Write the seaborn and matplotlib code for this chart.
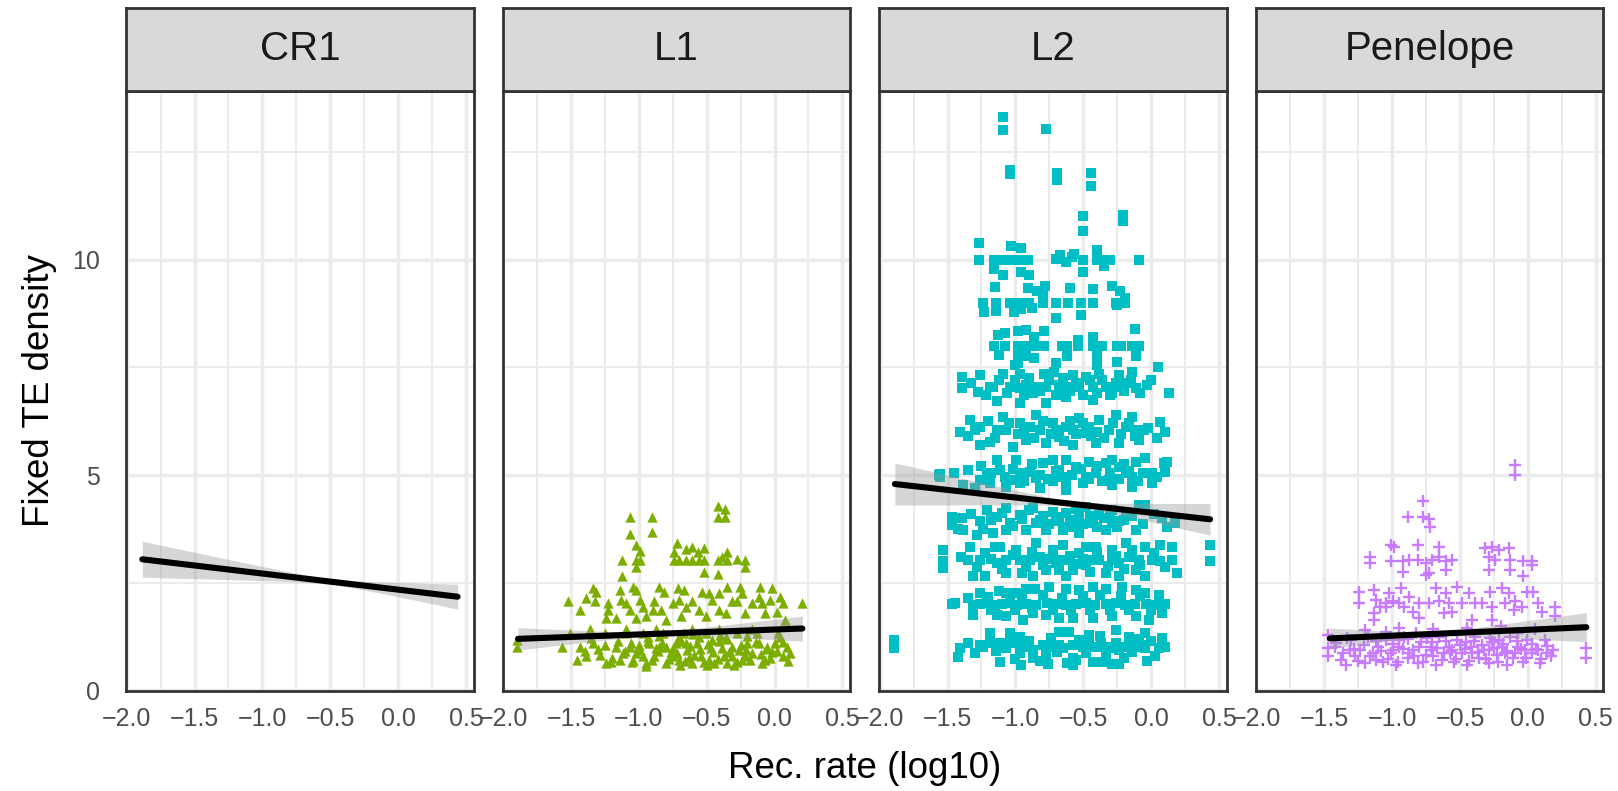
import numpy as np
import pandas as pd
import matplotlib
matplotlib.use("Agg")
import matplotlib.pyplot as plt
import seaborn as sns

# ---------------------------------------------------------------- data
families = ["CR1", "L1", "L2", "Penelope"]
family_colors = {"CR1": "#F8766D", "L1": "#7CAE00", "L2": "#00BFC4", "Penelope": "#C77CFF"}
family_markers = {"CR1": "o", "L1": "^", "L2": "s", "Penelope": "+"}
family_sizes = {"CR1": 40, "L1": 55, "L2": 44, "Penelope": 80}

# (recombination rate log10, fixed TE density) per family
cr1_points = []

l1_points = [
    (-1.068, 4.03), (-0.905, 4.03), (-1.068, 3.63), (-0.905, 3.67),
    (-0.42, 4.29), (-0.366, 4.20), (-0.42, 4.03), (-0.366, 4.03),
    (-1.024, 3.38), (-0.99, 3.24), (-1.024, 3.02), (-0.99, 3.02), (-1.024, 2.85),
    (-1.122, 3.02), (-1.122, 2.64),
    (-0.717, 3.43), (-0.739, 3.22), (-0.654, 3.27), (-0.61, 3.33), (-0.561, 3.22),
    (-0.517, 3.31), (-0.739, 3.02), (-0.703, 3.02), (-0.654, 3.02), (-0.605, 3.02),
    (-0.556, 3.02), (-0.517, 3.02), (-0.42, 3.02), (-0.386, 3.10), (-0.349, 3.22),
    (-0.349, 3.02), (-0.273, 3.04), (-0.215, 3.02), (-0.215, 2.85), (-0.522, 2.75),
    (-0.42, 2.69),
    (-1.52, 2.06), (-1.337, 2.37), (-1.312, 2.29), (-1.386, 2.13), (-1.325, 2.06),
    (-1.227, 2.02), (-1.227, 1.86), (-1.166, 1.67), (-1.239, 1.67), (-1.142, 2.33),
    (-1.13, 2.09), (-1.044, 2.40), (-1.02, 2.33), (-0.995, 2.09), (-0.971, 1.94),
    (-1.068, 1.86), (-1.02, 1.67), (-0.849, 2.40), (-0.812, 2.29), (-0.886, 2.06),
    (-0.837, 1.86), (-0.80, 1.63), (-0.715, 2.37), (-0.666, 2.33), (-0.703, 2.09),
    (-0.654, 1.94), (-0.69, 1.71), (-0.556, 1.86), (-0.532, 2.29), (-0.483, 2.25),
    (-0.459, 2.09), (-0.41, 2.25), (-0.349, 2.40), (-0.41, 1.86), (-0.361, 1.78),
    (-0.251, 2.40), (-0.239, 2.25), (-0.276, 2.06), (-0.215, 1.78), (-0.105, 2.40),
    (-0.117, 2.17), (-0.093, 2.02), (-0.02, 2.37), (-0.032, 2.09), (0.041, 2.17),
    (0.066, 2.02), (0.017, 1.82), (0.20, 2.02), (0.078, 1.63),
    (-1.093, 2.02), (-0.898, 1.86), (-0.751, 2.02), (-0.605, 2.06), (-0.312, 2.06),
    (-0.166, 2.02), (-0.947, 1.71), (-0.507, 1.71), (-0.068, 1.78), (-1.434, 1.86),
    (-1.898, 1.16), (-1.898, 1.01), (-1.568, 1.01), (-1.507, 1.32), (-1.459, 0.70),
    (-1.386, 0.78), (-1.434, 1.01), (-1.337, 1.09), (-1.288, 0.81), (-1.251, 1.32),
    (-1.239, 0.62), (-1.203, 0.66), (-1.166, 1.01), (-1.117, 0.85), (-1.093, 1.32),
    (-1.056, 1.09), (-1.044, 0.70), (-0.995, 0.93), (-0.971, 1.32), (-0.947, 0.62),
    (-0.922, 1.09), (-0.886, 0.78), (-0.849, 1.01), (-0.825, 1.32), (-0.80, 0.62),
    (-0.764, 0.89), (-0.727, 1.09), (-0.703, 0.70), (-0.666, 1.32), (-0.642, 0.93),
    (-0.605, 0.62), (-0.568, 1.09), (-0.544, 0.78), (-0.507, 1.32), (-0.471, 0.97),
    (-0.446, 0.62), (-0.41, 1.13), (-0.373, 0.78), (-0.349, 0.62), (-0.312, 1.01),
    (-0.276, 1.32), (-0.239, 0.70), (-0.203, 1.09), (-0.166, 0.85), (-0.129, 1.32),
    (-0.093, 0.62), (-0.056, 1.01), (-0.02, 0.89), (0.005, 1.09), (0.041, 1.24),
    (0.066, 0.78), (0.09, 1.01), (0.115, 0.85),
    (-1.142, 0.70), (-1.02, 0.85), (-0.873, 0.97), (-0.751, 0.78), (-0.629, 0.74),
    (-0.483, 0.70), (-0.337, 0.89), (-0.215, 0.78), (-0.068, 0.70), (-1.068, 1.01),
    (-0.80, 1.01), (-0.654, 1.09), (-0.459, 1.16), (-0.264, 0.93), (-0.117, 1.09),
    (-0.934, 1.24), (-0.703, 1.24), (-0.556, 1.24), (-0.361, 1.24), (0.029, 1.32),
    (-1.361, 1.43), (-1.093, 1.43), (-0.873, 1.43), (-0.605, 1.43), (-0.41, 1.43),
    (-0.166, 1.43),
    (-1.30, 0.95), (-1.25, 1.05), (-1.20, 0.75), (-1.15, 1.15), (-1.10, 0.90),
    (-1.05, 0.65), (-1.00, 1.05), (-0.97, 0.80), (-0.93, 1.15), (-0.90, 0.70),
    (-0.86, 0.90), (-0.83, 1.10), (-0.78, 0.72), (-0.75, 0.98), (-0.72, 0.85),
    (-0.69, 1.15), (-0.66, 0.68), (-0.62, 1.02), (-0.59, 0.82), (-0.55, 0.95),
    (-0.52, 0.66), (-0.49, 1.08), (-0.45, 0.88), (-0.42, 0.72), (-0.39, 0.98),
    (-0.35, 1.18), (-0.31, 0.80), (-0.28, 0.66), (-0.25, 1.05), (-0.21, 0.92),
    (-0.18, 0.70), (-0.14, 1.12), (-0.10, 0.84), (-0.06, 0.95), (-0.03, 0.75),
    (0.02, 0.90), (0.06, 1.12), (0.10, 0.68), (-1.40, 0.90), (-1.35, 1.20),
    (-0.95, 0.55), (-0.70, 0.58), (-0.50, 0.58), (-0.30, 0.58), (-0.85, 1.25),
    (-0.60, 1.30), (-0.40, 1.28), (-0.20, 1.25),
]

l2_points = [
    # high outliers
    (-1.088, 13.33), (-1.088, 13.02), (-0.773, 13.05), (-1.04, 12.10), (-1.04, 12.00),
    (-0.69, 12.03), (-0.69, 11.86), (-0.44, 12.03), (-0.44, 11.73), (-0.50, 11.03),
    (-0.50, 10.68), (-0.21, 11.05), (-0.21, 10.90),
    # around 10
    (-1.27, 10.40), (-1.03, 10.33), (-0.96, 10.29), (-1.27, 10.0), (-1.16, 10.0),
    (-1.09, 10.0), (-1.03, 10.0), (-0.96, 10.0), (-0.91, 10.0), (-0.70, 10.02),
    (-0.67, 10.12), (-0.63, 9.96), (-0.58, 10.08), (-0.57, 10.15), (-0.50, 10.0),
    (-0.40, 10.23), (-0.40, 10.0), (-0.33, 10.0), (-0.30, 10.0), (-0.35, 9.86),
    (-0.09, 10.0), (-1.16, 9.79), (-1.09, 9.65), (-0.96, 9.73), (-0.90, 9.65),
    (-0.50, 9.73),
    # around 9
    (-1.15, 9.38), (-0.91, 9.36), (-0.78, 9.40), (-0.84, 9.29), (-0.80, 9.19),
    (-0.60, 9.36), (-0.43, 9.33), (-0.29, 9.40), (-0.23, 9.29), (-0.19, 9.12),
    (-1.24, 9.0), (-1.14, 9.0), (-1.04, 9.0), (-0.97, 9.0), (-0.90, 9.0), (-0.80, 9.0),
    (-0.70, 9.0), (-0.61, 9.0), (-0.52, 9.0), (-0.43, 9.0), (-0.26, 9.0), (-0.19, 9.0),
    (-1.23, 8.78), (-1.14, 8.82), (-1.01, 8.78), (-0.96, 8.85), (-0.88, 8.89),
    (-0.70, 8.64), (-0.52, 8.72), (-0.25, 8.95),
    # around 8
    (-1.16, 8.0), (-1.08, 8.0), (-0.98, 8.0), (-0.92, 8.0), (-0.86, 8.0), (-0.82, 8.0),
    (-0.79, 8.0), (-0.66, 8.0), (-0.62, 8.0), (-0.54, 8.0), (-0.43, 8.0), (-0.36, 8.0),
    (-0.25, 8.0), (-0.22, 8.0), (-0.14, 8.0), (-0.09, 8.0),
    (-1.13, 8.26), (-1.08, 8.30), (-0.98, 8.35), (-0.92, 8.38), (-0.86, 8.20),
    (-0.79, 8.35), (-0.43, 8.20), (-0.12, 8.40), (-0.54, 8.14),
    (-1.12, 7.79), (-0.98, 7.77), (-0.92, 7.77), (-0.86, 7.73), (-0.62, 7.76),
    (-0.40, 7.79), (-0.11, 7.76), (-0.98, 7.60),
    # around 7
    (-1.395, 7.29), (-1.395, 7.02), (-1.261, 7.33), (-1.273, 6.94), (-1.164, 7.05),
    (-1.139, 6.71), (-1.091, 7.36), (-1.042, 7.05), (-0.969, 7.36), (-0.969, 6.67),
    (-0.92, 7.09), (-0.871, 6.90), (-0.786, 7.36), (-0.774, 7.05), (-0.774, 6.67),
    (-0.713, 7.40), (-0.676, 7.09), (-0.627, 6.82), (-0.578, 7.33), (-0.53, 7.05),
    (-0.481, 7.29), (-0.432, 6.74), (-0.383, 7.36), (-0.335, 7.05), (-0.286, 6.90),
    (-0.237, 7.33), (-0.188, 7.13), (-0.139, 7.40), (-0.115, 7.02), (-0.029, 7.09),
    (0.129, 6.90), (-1.188, 7.05), (-0.847, 7.05), (-0.627, 7.05), (-0.432, 7.05),
    (-0.237, 7.05), (-0.969, 7.02), (-1.0, 7.55), (-0.70, 7.60), (-0.40, 7.55),
    (-0.25, 7.62), (0.05, 7.50),
    (-1.33, 7.15), (-1.22, 6.85), (-1.12, 7.20), (-1.06, 6.90), (-1.00, 7.20),
    (-0.94, 6.85), (-0.90, 7.25), (-0.82, 6.95), (-0.75, 7.20), (-0.70, 6.85),
    (-0.65, 7.25), (-0.60, 6.95), (-0.55, 7.15), (-0.50, 6.85), (-0.45, 7.20),
    (-0.40, 6.90), (-0.36, 7.22), (-0.30, 6.85), (-0.26, 7.15), (-0.20, 6.95),
    (-0.15, 7.20), (-0.08, 6.90), (0.00, 7.20),
    # around 6
    (-1.408, 6.01), (-1.334, 6.28), (-1.261, 5.70), (-1.188, 5.77), (-1.091, 6.36),
    (-1.066, 6.05), (-1.018, 5.66), (-0.969, 6.20), (-0.92, 5.81), (-0.847, 6.39),
    (-0.822, 6.05), (-0.774, 5.74), (-0.725, 6.20), (-0.676, 5.89), (-0.627, 6.12),
    (-0.578, 5.70), (-0.53, 6.32), (-0.481, 5.97), (-0.408, 5.74), (-0.383, 6.28),
    (-0.31, 6.05), (-0.261, 6.39), (-0.237, 5.74), (-0.139, 6.36), (-0.115, 6.05),
    (-0.091, 5.81), (-0.054, 6.05), (0.068, 6.24), (0.104, 6.01), (-1.261, 6.12),
    (-0.895, 6.12), (-0.456, 6.12), (-0.188, 6.12), (-1.139, 6.05), (-0.578, 6.05),
    (-1.35, 5.90), (-1.30, 6.05), (-1.20, 6.25), (-1.15, 5.85), (-1.05, 6.20),
    (-0.98, 5.95), (-0.94, 6.05), (-0.86, 5.85), (-0.80, 6.25), (-0.74, 5.95),
    (-0.70, 6.05), (-0.64, 5.80), (-0.60, 6.25), (-0.55, 5.95), (-0.50, 6.20),
    (-0.44, 5.90), (-0.40, 6.00), (-0.35, 5.85), (-0.28, 6.20), (-0.22, 5.95),
    (-0.16, 6.20), (-0.12, 5.90), (-0.02, 6.10), (0.04, 5.85),
    # around 5
    (-1.554, 4.96), (-1.554, 5.03), (-1.566, 5.0), (-1.347, 5.12), (-1.212, 5.0),
    (-1.139, 5.35), (-1.115, 5.12), (-0.993, 5.35), (-0.969, 5.04), (-0.895, 5.08),
    (-0.798, 5.27), (-0.725, 5.35), (-0.676, 5.12), (-0.627, 5.35), (-0.554, 5.19),
    (-0.456, 5.31), (-0.408, 5.04), (-0.335, 5.27), (-0.286, 5.35), (-0.237, 5.19),
    (-0.188, 5.04), (-0.115, 5.31), (-0.042, 5.39), (0.007, 5.04), (0.092, 5.27),
    (0.104, 5.08), (-1.188, 4.81), (-1.066, 4.73), (-0.969, 4.81), (-0.822, 4.69),
    (-0.725, 4.85), (-0.627, 4.65), (-0.505, 4.81), (-0.286, 4.77), (-0.139, 4.73),
    (0.007, 4.81), (-1.383, 4.77), (-1.261, 4.88), (-1.042, 4.88), (-0.847, 4.92),
    (-0.627, 4.88), (-0.481, 4.96), (-0.31, 4.88), (-0.139, 4.96),
    (-1.45, 5.05), (-1.30, 4.70), (-1.25, 5.20), (-1.18, 5.05), (-1.08, 4.95),
    (-1.02, 5.15), (-0.94, 4.85), (-0.88, 5.25), (-0.82, 5.00), (-0.76, 4.90),
    (-0.70, 5.10), (-0.65, 4.95), (-0.58, 5.00), (-0.52, 5.15), (-0.46, 4.90),
    (-0.40, 5.20), (-0.36, 4.85), (-0.30, 5.05), (-0.24, 4.90), (-0.20, 5.25),
    (-0.16, 5.10), (-0.10, 4.85), (-0.06, 5.05), (0.04, 4.95), (0.12, 5.30),
    # around 4
    (-1.469, 4.03), (-1.469, 3.84), (-1.395, 3.99), (-1.383, 3.72), (-1.286, 3.61),
    (-1.212, 4.19), (-1.164, 3.64), (-1.139, 4.03), (-1.066, 4.23), (-1.042, 3.88),
    (-0.969, 4.07), (-0.92, 3.72), (-0.871, 4.23), (-0.822, 3.95), (-0.774, 3.72),
    (-0.725, 4.15), (-0.676, 3.92), (-0.627, 4.11), (-0.578, 3.80), (-0.53, 4.03),
    (-0.481, 4.26), (-0.432, 3.88), (-0.383, 4.07), (-0.335, 3.72), (-0.286, 4.19),
    (-0.237, 3.92), (-0.188, 4.11), (-0.115, 3.72), (-0.091, 4.30), (-0.042, 4.30),
    (0.08, 3.99), (0.178, 3.88), (-1.066, 3.72), (-0.53, 3.64), (-0.847, 3.88),
    (-0.627, 3.80), (-1.261, 3.92), (-0.286, 3.88),
    (-1.42, 3.75), (-1.33, 4.10), (-1.24, 3.75), (-1.18, 3.95), (-1.10, 4.12),
    (-1.02, 3.82), (-0.95, 3.98), (-0.90, 4.18), (-0.80, 4.05), (-0.75, 3.85),
    (-0.70, 4.02), (-0.65, 3.72), (-0.60, 3.95), (-0.55, 4.20), (-0.50, 3.85),
    (-0.45, 4.05), (-0.40, 3.78), (-0.35, 4.00), (-0.30, 4.05), (-0.25, 3.78),
    (-0.20, 3.95), (-0.14, 4.05), (-0.06, 3.85), (0.02, 4.10), (0.12, 3.80),
    # around 3
    (-1.53, 3.26), (-1.53, 2.99), (-1.53, 2.83), (-1.334, 3.33), (-1.347, 3.02),
    (-1.31, 2.64), (-1.225, 3.18), (-1.225, 2.64), (-1.152, 3.33), (-1.139, 2.95),
    (-1.066, 2.71), (-0.993, 3.26), (-0.969, 3.02), (-0.92, 2.87), (-0.847, 3.41),
    (-0.822, 3.10), (-0.774, 2.79), (-0.725, 3.26), (-0.70, 2.95), (-0.652, 3.37),
    (-0.627, 3.02), (-0.578, 2.79), (-0.53, 3.18), (-0.481, 2.91), (-0.408, 3.33),
    (-0.383, 3.02), (-0.335, 2.71), (-0.286, 3.26), (-0.237, 2.95), (-0.188, 3.41),
    (-0.164, 3.10), (-0.115, 2.79), (-0.042, 3.33), (-0.042, 2.64), (0.007, 3.02),
    (0.068, 3.37), (0.068, 2.99), (0.153, 3.33), (0.153, 3.02), (0.19, 2.71),
    (0.434, 3.37), (0.434, 2.99), (-1.261, 3.02), (-1.066, 3.02), (-0.895, 3.02),
    (-0.676, 3.02), (-0.432, 3.02), (-0.286, 3.02), (-0.091, 3.02), (-1.115, 3.33),
    (-0.481, 3.33), (-0.627, 2.64), (-0.871, 2.64), (-0.237, 2.64),
    (-1.40, 3.10), (-1.28, 2.85), (-1.18, 3.05), (-1.10, 2.82), (-1.02, 3.15),
    (-0.95, 2.72), (-0.88, 3.20), (-0.80, 2.90), (-0.75, 3.05), (-0.68, 2.80),
    (-0.60, 3.12), (-0.55, 2.92), (-0.50, 3.05), (-0.45, 2.75), (-0.40, 3.20),
    (-0.32, 2.88), (-0.26, 3.12), (-0.20, 2.82), (-0.14, 3.25), (-0.08, 2.90),
    (0.02, 3.18), (0.10, 2.85),
    # around 2
    (-1.469, 2.0), (-1.444, 2.02), (-1.261, 2.25), (-1.20, 2.17),
    (-1.31, 1.98), (-1.26, 2.0), (-1.21, 2.02), (-1.15, 1.98), (-1.10, 2.0),
    (-1.04, 2.03), (-0.99, 1.98), (-0.92, 2.0), (-0.85, 1.98), (-0.77, 2.02),
    (-0.70, 2.0), (-0.63, 1.97), (-0.55, 2.0), (-0.48, 2.02), (-0.41, 1.98),
    (-0.33, 2.0), (-0.26, 2.03), (-0.19, 1.98), (-0.12, 2.0), (-0.04, 2.0),
    (0.03, 1.98), (0.10, 2.0),
    (-1.066, 2.25), (-0.993, 2.25), (-0.92, 2.36), (-0.859, 2.36), (-0.749, 2.40),
    (-0.627, 2.36), (-0.53, 2.33), (-0.432, 2.40), (-0.335, 2.36), (-0.212, 2.40),
    (-0.115, 2.33), (-0.042, 2.25),
    (-1.31, 1.74), (-1.139, 1.74), (-1.066, 1.71), (-0.944, 1.63), (-0.871, 1.78),
    (-0.774, 1.74), (-0.676, 1.67), (-0.578, 1.67), (-0.432, 1.67), (-0.286, 1.71),
    (-0.115, 1.72), (-0.017, 1.63), (0.08, 1.78),
    (-1.35, 2.15), (-1.18, 1.85), (-1.12, 2.30), (-1.00, 1.85), (-0.95, 2.12),
    (-0.88, 1.90), (-0.80, 2.20), (-0.72, 1.85), (-0.66, 2.15), (-0.59, 1.85),
    (-0.50, 2.18), (-0.45, 1.85), (-0.38, 2.20), (-0.30, 1.85), (-0.22, 2.18),
    (-0.16, 1.85), (-0.08, 2.18), (0.00, 1.85), (0.06, 2.20),
    # around 1
    (-1.895, 1.16), (-1.895, 0.97), (-1.408, 0.97), (-1.42, 0.76), (-1.261, 1.05),
    (-1.188, 1.09), (-1.188, 1.32), (-1.115, 1.09), (-1.042, 1.32), (-1.042, 1.09),
    (-0.969, 1.24), (-0.969, 1.01), (-0.969, 0.85), (-0.871, 0.93), (-0.871, 0.74),
    (-0.798, 1.05), (-0.676, 1.36), (-0.676, 1.05), (-0.652, 0.97), (-0.603, 1.36),
    (-0.578, 1.05), (-0.578, 0.74), (-0.554, 0.70), (-0.505, 1.01), (-0.456, 1.28),
    (-0.456, 1.09), (-0.371, 1.09), (-0.31, 0.97), (-0.261, 1.40), (-0.261, 1.09),
    (-0.188, 1.01), (-0.164, 1.23), (-0.115, 1.01), (-0.042, 1.32), (-0.042, 0.97),
    (0.056, 0.97), (0.105, 0.99), (-1.115, 0.64), (-0.956, 0.58), (-0.761, 0.61),
    (-0.578, 0.58), (-0.359, 0.64), (-0.286, 0.61), (-0.237, 0.61), (-0.03, 0.68),
    (-1.237, 1.01), (-1.066, 0.97), (-0.92, 1.01), (-0.725, 1.01), (-0.53, 1.16),
    (-0.408, 1.01), (-0.237, 0.93), (-0.066, 1.05), (-0.335, 0.78), (-0.774, 0.81),
    (-1.35, 1.10), (-1.30, 0.85), (-1.14, 0.90), (-1.00, 0.72), (-0.90, 1.15),
    (-0.82, 0.68), (-0.74, 1.20), (-0.69, 0.88), (-0.62, 0.62), (-0.48, 0.85),
    (-0.43, 0.66), (-0.38, 1.25), (-0.33, 1.00), (-0.20, 0.75), (-0.14, 0.88),
    (-0.09, 1.18), (0.00, 1.15), (0.03, 0.80), (0.08, 1.22),
]

penelope_points = [
    (-0.098, 5.23), (-0.098, 5.0), (-0.771, 4.40), (-0.886, 4.03), (-0.771, 4.02),
    (-0.727, 3.97), (-0.722, 3.78), (-1.008, 3.37), (-0.983, 3.33), (-0.812, 3.37),
    (-0.654, 3.33), (-1.161, 3.10), (-1.161, 2.95),
    (-1.008, 2.99), (-0.922, 2.99), (-0.873, 3.02), (-0.812, 3.02), (-0.751, 2.95),
    (-0.703, 3.02), (-0.654, 3.10), (-0.605, 2.99), (-0.556, 3.02), (-0.605, 2.79),
    (-0.727, 2.71), (-0.751, 2.68), (-0.922, 2.75), (-0.313, 3.30), (-0.264, 3.33),
    (-0.215, 3.26), (-0.142, 3.30), (-0.288, 3.10), (-0.239, 3.02), (-0.13, 3.02),
    (-0.288, 2.79), (-0.13, 2.79), (-0.032, 2.99), (0.029, 2.99), (0.029, 2.91),
    (-0.032, 2.64),
    (-1.244, 2.29), (-1.244, 2.02), (-1.13, 2.33), (-1.117, 2.09), (-1.13, 1.78),
    (-1.13, 1.63), (-1.093, 1.94), (-1.02, 2.25), (-0.995, 2.06), (-1.044, 1.94),
    (-0.934, 2.37), (-0.91, 1.94), (-0.873, 2.17), (-0.849, 1.82), (-0.80, 2.02),
    (-0.80, 1.67), (-0.727, 2.02), (-0.678, 2.37), (-0.654, 2.06), (-0.605, 2.25),
    (-0.617, 1.78), (-0.556, 1.82), (-0.52, 2.40), (-0.483, 2.02), (-0.434, 2.25),
    (-0.386, 2.02), (-0.41, 1.63), (-0.276, 2.29), (-0.264, 1.94), (-0.264, 1.63),
    (-0.19, 2.37), (-0.142, 2.25), (-0.093, 2.06), (-0.105, 1.86), (-0.044, 1.94),
    (-0.008, 2.29), (0.041, 2.29), (0.078, 2.02), (0.102, 1.82), (0.20, 1.94),
    (0.20, 1.71), (-1.044, 2.02), (-0.946, 2.02), (-0.581, 2.02), (-0.337, 2.02),
    (-0.166, 2.02),
    (-1.471, 1.28), (-1.471, 0.97), (-1.471, 0.78), (-1.41, 1.09), (-1.361, 0.85),
    (-1.337, 0.58), (-1.30, 1.16), (-1.276, 0.78), (-1.239, 0.93), (-1.203, 0.62),
    (-1.178, 1.24), (-1.142, 0.85), (-1.105, 1.01), (-1.069, 0.66), (-1.044, 1.16),
    (-1.008, 0.85), (-0.971, 0.58), (-0.946, 1.01), (-0.91, 1.24), (-0.886, 0.74),
    (-0.849, 0.93), (-0.812, 0.62), (-0.788, 1.12), (-0.751, 0.81), (-0.715, 1.01),
    (-0.678, 0.58), (-0.654, 1.24), (-0.617, 0.85), (-0.581, 1.01), (-0.544, 0.66),
    (-0.52, 1.16), (-0.483, 0.85), (-0.447, 0.58), (-0.422, 1.01), (-0.386, 1.24),
    (-0.361, 0.74), (-0.325, 0.93), (-0.288, 0.62), (-0.264, 1.12), (-0.227, 0.81),
    (-0.19, 1.01), (-0.154, 0.58), (-0.13, 1.24), (-0.093, 0.85), (-0.069, 1.01),
    (-0.032, 0.66), (-0.008, 1.16), (0.029, 0.85), (0.078, 0.93), (0.09, 0.62),
    (0.127, 1.16), (0.139, 0.85), (0.188, 0.93), (0.431, 0.97), (0.431, 0.74),
    (-1.312, 0.93), (-1.117, 0.70), (-0.995, 0.93), (-0.873, 0.85), (-0.703, 0.93),
    (-0.556, 0.93), (-0.41, 0.85), (-0.288, 0.93), (-0.166, 0.85), (-0.02, 0.93),
    (-0.946, 1.16), (-0.703, 1.12), (-0.459, 1.12), (-0.215, 1.16), (-0.824, 1.32),
    (-1.044, 1.36), (-0.069, 1.32),
    (-1.42, 1.00), (-1.38, 0.70), (-1.33, 1.20), (-1.28, 0.95), (-1.25, 0.68),
    (-1.21, 1.05), (-1.16, 0.78), (-1.12, 1.15), (-1.08, 0.90), (-1.03, 0.72),
    (-0.99, 1.08), (-0.96, 0.66), (-0.92, 0.95), (-0.88, 1.18), (-0.84, 0.78),
    (-0.80, 1.00), (-0.77, 0.66), (-0.74, 1.22), (-0.70, 0.80), (-0.67, 0.98),
    (-0.63, 0.70), (-0.60, 1.15), (-0.57, 0.88), (-0.53, 0.72), (-0.50, 1.05),
    (-0.46, 0.95), (-0.43, 0.68), (-0.40, 1.15), (-0.37, 0.88), (-0.34, 1.05),
    (-0.31, 0.72), (-0.28, 1.22), (-0.25, 0.98), (-0.22, 0.66), (-0.18, 1.08),
    (-0.15, 0.90), (-0.11, 0.75), (-0.08, 1.15), (-0.05, 0.95), (-0.01, 0.74),
    (0.03, 1.08), (0.06, 0.95), (0.10, 0.72), (0.14, 1.02), (0.17, 0.80),
    (-1.20, 1.40), (-0.95, 1.45), (-0.70, 1.42), (-0.45, 1.45), (-0.20, 1.48),
    (0.05, 1.42),
]

# linear fit per family: end points of the line and half-width of the 95% band
fit_x_start = [-1.885, -1.890, -1.888, -1.459]
fit_x_end = [0.438, 0.205, 0.434, 0.431]
fit_y_start = [3.04, 1.19, 4.79, 1.20]
fit_y_end = [2.17, 1.43, 3.97, 1.46]
band_start = [0.42, 0.26, 0.49, 0.24]
band_end = [0.29, 0.29, 0.37, 0.34]
band_min = [0.07, 0.05, 0.06, 0.05]

x_ticks = [-2.0, -1.5, -1.0, -0.5, 0.0, 0.5]
x_tick_labels = ["\u22122.0", "\u22121.5", "\u22121.0", "\u22120.5", "0.0", "0.5"]
x_minor = [-1.75, -1.25, -0.75, -0.25, 0.25]
y_ticks = [0, 5, 10]
y_tick_labels = ["0", "5", "10"]
y_minor = [2.5, 7.5, 12.5]

# ---------------------------------------------------------------- frame
point_sets = {"CR1": cr1_points, "L1": l1_points, "L2": l2_points, "Penelope": penelope_points}
rows = []
for fam, pts in point_sets.items():
    for rx, dy in pts:
        rows.append({"family": fam, "rec_rate": rx, "density": dy})
df = pd.DataFrame(rows, columns=["family", "rec_rate", "density"])

# ---------------------------------------------------------------- style
sns.set_style("white")
plt.rcParams["font.family"] = ["Liberation Sans", "DejaVu Sans"]

border = "#333333"
grid = "#EBEBEB"

W, H = 1618, 791
fig = plt.figure(figsize=(W / 100, H / 100), dpi=100)

panel_left = [126.3, 502.7, 879.3, 1256.0]
panel_w = 347.3
panel_top, panel_bottom = 91.0, 691.0
strip_top = 8.0


def band_halfwidth(xs, x0, x1, hw0, hw1, hwmin):
    a = hwmin ** 2
    r = np.sqrt((hw0 ** 2 - a) / (hw1 ** 2 - a))
    d1 = (x1 - x0) / (1 + r)
    xb = x1 - d1
    b = (hw1 ** 2 - a) / d1 ** 2
    return np.sqrt(a + b * (xs - xb) ** 2)


for i, fam in enumerate(families):
    l = panel_left[i] / W
    ax = fig.add_axes([l, 1 - panel_bottom / H, panel_w / W, (panel_bottom - panel_top) / H])
    ax.set_facecolor("white")
    ax.set_xlim(-2.003, 0.556)
    ax.set_ylim(-0.023, 13.93)

    # grid
    for gx in x_minor:
        ax.axvline(gx, color=grid, lw=1.4, zorder=0)
    for gy in y_minor:
        ax.axhline(gy, color=grid, lw=1.4, zorder=0)
    for gx in x_ticks:
        ax.axvline(gx, color=grid, lw=2.5, zorder=0)
    for gy in y_ticks:
        ax.axhline(gy, color=grid, lw=2.5, zorder=0)

    sub = df[df["family"] == fam]
    if len(sub):
        kw = dict(linewidth=0)
        if family_markers[fam] == "+":
            kw = dict(linewidth=1.7)
        sns.scatterplot(data=sub, x="rec_rate", y="density", ax=ax,
                        marker=family_markers[fam], color=family_colors[fam],
                        s=family_sizes[fam], zorder=2, legend=False, **kw)

    # fitted line with confidence ribbon
    xs = np.linspace(fit_x_start[i], fit_x_end[i], 100)
    ys = fit_y_start[i] + (fit_y_end[i] - fit_y_start[i]) * (xs - fit_x_start[i]) / (fit_x_end[i] - fit_x_start[i])
    hw = band_halfwidth(xs, fit_x_start[i], fit_x_end[i], band_start[i], band_end[i], band_min[i])
    ax.fill_between(xs, ys - hw, ys + hw, color="#999999", alpha=0.4, linewidth=0, zorder=3)
    fit_df = pd.DataFrame({"rec_rate": [fit_x_start[i], fit_x_end[i]],
                           "density": [fit_y_start[i], fit_y_end[i]]})
    sns.lineplot(data=fit_df, x="rec_rate", y="density", ax=ax, color="black",
                 lw=4.4, zorder=4, legend=False)

    ax.set_xticks(x_ticks)
    ax.set_xticklabels(x_tick_labels)
    ax.tick_params(axis="x", length=9.2, width=2.2, color=border, labelsize=18,
                   labelcolor="#4D4D4D", pad=2.5)
    if i == 0:
        ax.set_yticks(y_ticks)
        ax.set_yticklabels(y_tick_labels)
        ax.tick_params(axis="y", length=9.2, width=2.2, color=border, labelsize=18,
                       labelcolor="#4D4D4D", pad=9.5)
    else:
        ax.set_yticks([])
    ax.set_xlabel("")
    ax.set_ylabel("")
    for sp in ax.spines.values():
        sp.set_color(border)
        sp.set_linewidth(2.0)
        sp.set_zorder(6)

    # facet strip
    sax = fig.add_axes([l, 1 - panel_top / H, panel_w / W, (panel_top - strip_top) / H])
    sax.set_facecolor("#D9D9D9")
    sax.set_xticks([])
    sax.set_yticks([])
    for sp in sax.spines.values():
        sp.set_color(border)
        sp.set_linewidth(2.0)
    sax.text(0.5, 0.5, fam, transform=sax.transAxes, ha="center", va="center",
             fontsize=29, color="#1A1A1A")

fig.text((panel_left[0] + panel_left[-1] + panel_w) / 2 / W, 1 - 778 / H, "Rec. rate (log10)",
         ha="center", va="baseline", fontsize=26.5, color="black")
fig.text(40 / W, 1 - 391 / H, "Fixed TE density", rotation=90,
         ha="center", va="center", fontsize=26.5, color="black")

fig.savefig("out.png", dpi=100)
